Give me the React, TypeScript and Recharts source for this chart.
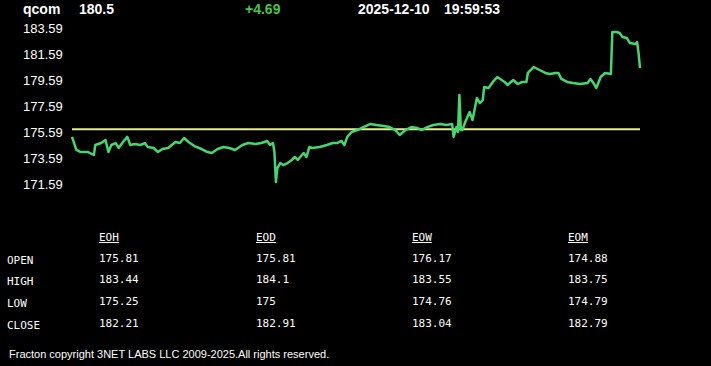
import { Line, LineChart, ReferenceLine, XAxis, YAxis } from 'recharts';

// header
const symbol = 'qcom';
const lastPrice = '180.5';
const change = '+4.69';
const quoteDate = '2025-12-10';
const quoteTime = '19:59:53';

// intraday trace: minutes since open and price
const minutes = [
  0, 3, 6, 11, 15, 16, 20, 23, 25, 27, 30, 32, 35, 38, 40, 43, 47, 50, 52, 56,
  59, 62, 66, 71, 74, 77, 80, 84, 89, 93, 96, 100, 104, 108, 112, 117, 121, 126, 130, 134,
  136, 138, 139, 140, 141, 143, 145, 148, 151, 153, 155, 159, 161, 163, 165, 170, 175, 179, 182, 185,
  187, 189, 192, 196, 200, 205, 209, 214, 218, 222, 225, 229, 233, 237, 240, 244, 248, 253, 257, 261,
  262, 264, 265, 266, 267, 268, 270, 273, 275, 278, 280, 282, 283, 286, 289, 292, 297, 299, 303, 306,
  309, 312, 313, 317, 321, 325, 328, 332, 334, 336, 340, 344, 349, 354, 356, 358, 360, 363, 366, 370,
  371, 374, 376, 378, 381, 383, 387, 388, 389, 390,
];
const prices = [
  175.21, 174.21, 174.05, 174.05, 173.82, 174.59, 174.74, 174.97, 174.05, 174.59, 174.74, 174.36, 174.82, 175.21, 174.59, 174.67, 174.59, 174.74, 174.44, 174.36,
  174.05, 174.28, 174.36, 174.82, 174.74, 175.13, 174.82, 174.51, 174.28, 174.05, 173.97, 174.28, 174.44, 174.36, 174.21, 174.59, 174.74, 174.67, 174.74, 174.9,
  174.59, 174.74, 174.05, 171.74, 172.82, 173.2, 173.05, 173.2, 173.44, 173.67, 173.44, 173.97, 173.67, 174.44, 174.36, 174.44, 174.59, 174.74, 174.74, 174.9,
  174.59, 175.21, 175.59, 175.74, 175.97, 176.21, 176.13, 176.05, 175.97, 175.74, 175.36, 175.74, 175.97, 175.9, 175.74, 175.97, 176.13, 176.21, 176.13, 176.21,
  175.21, 175.97, 175.59, 178.44, 175.74, 175.74, 176.36, 177.13, 176.51, 178.21, 177.82, 178.05, 179.05, 178.97, 179.44, 179.82, 179.44, 179.21, 179.59, 179.28,
  179.44, 179.44, 180.13, 180.59, 180.36, 180.13, 180.05, 180.13, 180.13, 179.67, 179.44, 179.36, 179.28, 179.36, 179.67, 179.36, 178.97, 179.82, 180.13, 180.05,
  183.28, 183.28, 183.21, 182.9, 182.82, 182.44, 182.36, 182.51, 181.67, 180.5,
];
const openPrice = 175.81;
const priceTicks = [171.59, 173.59, 175.59, 177.59, 179.59, 181.59, 183.59];

// summary table
const periods = ['EOH', 'EOD', 'EOW', 'EOM'];
const rowLabels = ['OPEN', 'HIGH', 'LOW', 'CLOSE'];
const eoh = ['175.81', '183.44', '175.25', '182.21'];
const eod = ['175.81', '184.1', '175', '182.91'];
const eow = ['176.17', '183.55', '174.76', '183.04'];
const eom = ['174.88', '183.75', '174.79', '182.79'];
const tableValues = [eoh, eod, eow, eom];

const footer = 'Fracton copyright 3NET LABS LLC 2009-2025.All rights reserved.';

const chartData = minutes.map((t, i) => ({ t, price: prices[i] }));

const sans = '"Liberation Sans", Arial, sans-serif';
const mono = '"DejaVu Sans Mono", "Liberation Mono", monospace';

function PriceTick(props: any) {
  const { y, payload } = props;
  return (
    <text x={23} y={y} dy={4.5} fill="#ffffff" fontSize={13} fontFamily={sans} textAnchor="start">
      {Number(payload.value).toFixed(2)}
    </text>
  );
}

const headStyle = {
  position: 'absolute' as const,
  top: 1,
  fontFamily: sans,
  fontWeight: 700,
  fontSize: 14,
  color: '#ffffff',
  lineHeight: '16px',
};

const cell = {
  position: 'absolute' as const,
  fontFamily: mono,
  fontSize: 11,
  color: '#ffffff',
  lineHeight: '14px',
  whiteSpace: 'pre' as const,
};

const colX = [99, 256, 412, 568];
const rowY = [252, 273, 295, 317];

export default function App() {
  return (
    <div style={{ position: 'absolute', left: 0, top: 0, width: 711, height: 366, background: '#000', overflow: 'hidden' }}>
      <div style={{ ...headStyle, left: 23 }}>{symbol}</div>
      <div style={{ ...headStyle, left: 79 }}>{lastPrice}</div>
      <div style={{ ...headStyle, left: 245, color: '#46c646' }}>{change}</div>
      <div style={{ ...headStyle, left: 358 }}>{quoteDate}</div>
      <div style={{ ...headStyle, left: 444 }}>{quoteTime}</div>

      <div style={{ position: 'absolute', left: 0, top: 0 }}>
        <LineChart width={711} height={197} data={chartData} margin={{ top: 15, right: 71, bottom: 0, left: 0 }}>
          <XAxis dataKey="t" type="number" domain={[0, 390]} hide />
          <YAxis
            type="number"
            domain={[170.59, 184.59]}
            ticks={priceTicks}
            width={72}
            axisLine={false}
            tickLine={false}
            tick={PriceTick}
            interval={0}
          />
          <ReferenceLine y={openPrice} stroke="#e6ee8c" strokeWidth={2} ifOverflow="extendDomain" />
          <Line
            dataKey="price"
            type="linear"
            stroke="#45d672"
            strokeWidth={2.5}
            strokeLinejoin="round"
            dot={false}
            isAnimationActive={false}
          />
        </LineChart>
      </div>

      {periods.map((p, c) => (
        <div key={p} style={{ ...cell, left: colX[c], top: 231, textDecoration: 'underline' }}>
          {p}
        </div>
      ))}
      {rowLabels.map((label, r) => (
        <div key={label} style={{ ...cell, left: 7, top: rowY[r] + 2 }}>
          {label}
        </div>
      ))}
      {tableValues.map((col, c) =>
        col.map((v, r) => (
          <div key={`${c}-${r}`} style={{ ...cell, left: colX[c], top: rowY[r] }}>
            {v}
          </div>
        )),
      )}

      <div
        style={{
          position: 'absolute',
          left: 9,
          top: 347,
          fontFamily: sans,
          fontSize: 11,
          color: '#ffffff',
          lineHeight: '14px',
          whiteSpace: 'nowrap',
        }}
      >
        {footer}
      </div>
    </div>
  );
}
